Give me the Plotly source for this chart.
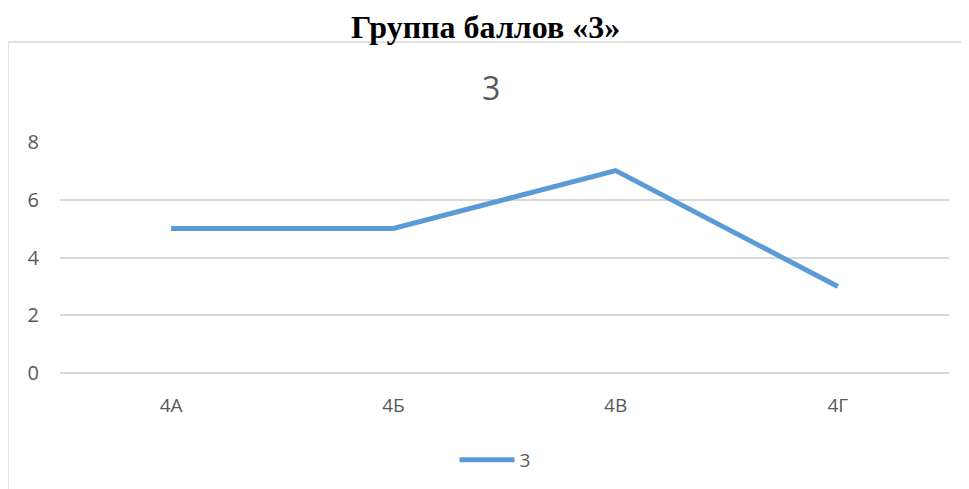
import plotly.graph_objects as go

categories = ["4А", "4Б", "4В", "4Г"]
values = [5, 5, 7, 3]
series_name = "3"
y_ticks = [0, 2, 4, 6, 8]

W, H = 969, 489
OFF = 8  # default page body margin
L, R, T, B = 60 - OFF, 20 + OFF, 141 - OFF, 115 + OFF
pw, ph = W - L - R, H - T - B

def px(x):
    return (x - OFF - L) / pw

def py(y):
    return (H - B - (y - OFF)) / ph

fig = go.Figure()
fig.add_trace(go.Scatter(
    x=categories, y=values, mode="lines", name=series_name,
    line=dict(color="#5B9BD5", width=5),
))

fig.update_layout(
    width=W, height=H,
    margin=dict(l=L, r=R, t=T, b=B),
    plot_bgcolor="white", paper_bgcolor="white",
    showlegend=True,
    legend=dict(orientation="h", x=px(495), xanchor="center", y=py(460), yanchor="middle",
                font=dict(family="Open Sans", size=19, color="#595959"), itemwidth=55),
    xaxis=dict(showgrid=False, showline=False, ticks="", zeroline=False,
               tickfont=dict(family="Open Sans", size=19, color="#595959"),
               ticklabelstandoff=18, range=[-0.5, 3.5]),
    yaxis=dict(range=[-0.02, 8.02], tickvals=y_ticks, showgrid=True, gridcolor="#D9D9D9", gridwidth=1.5,
               zeroline=True, zerolinecolor="#D9D9D9", zerolinewidth=1.5, showline=False, ticks="",
               tickfont=dict(family="Open Sans", size=20, color="#595959"),
               ticklabelstandoff=20),
    annotations=[
        dict(text="<b>Группа баллов «3»</b>", x=px(485), y=py(27), xref="paper", yref="paper",
             showarrow=False, xanchor="center", yanchor="middle",
             font=dict(family="Liberation Serif", size=32, color="black")),
        dict(text="3", x=px(491), y=py(87), xref="paper", yref="paper",
             showarrow=False, xanchor="center", yanchor="middle",
             font=dict(family="Open Sans", size=32, color="#595959")),
    ],
    shapes=[
        dict(type="rect", xref="paper", yref="paper", x0=px(8), x1=px(990), y0=py(42), y1=py(510),
             line=dict(color="#D9D9D9", width=1.5), layer="below"),
    ],
)

fig.write_html("out.html")
